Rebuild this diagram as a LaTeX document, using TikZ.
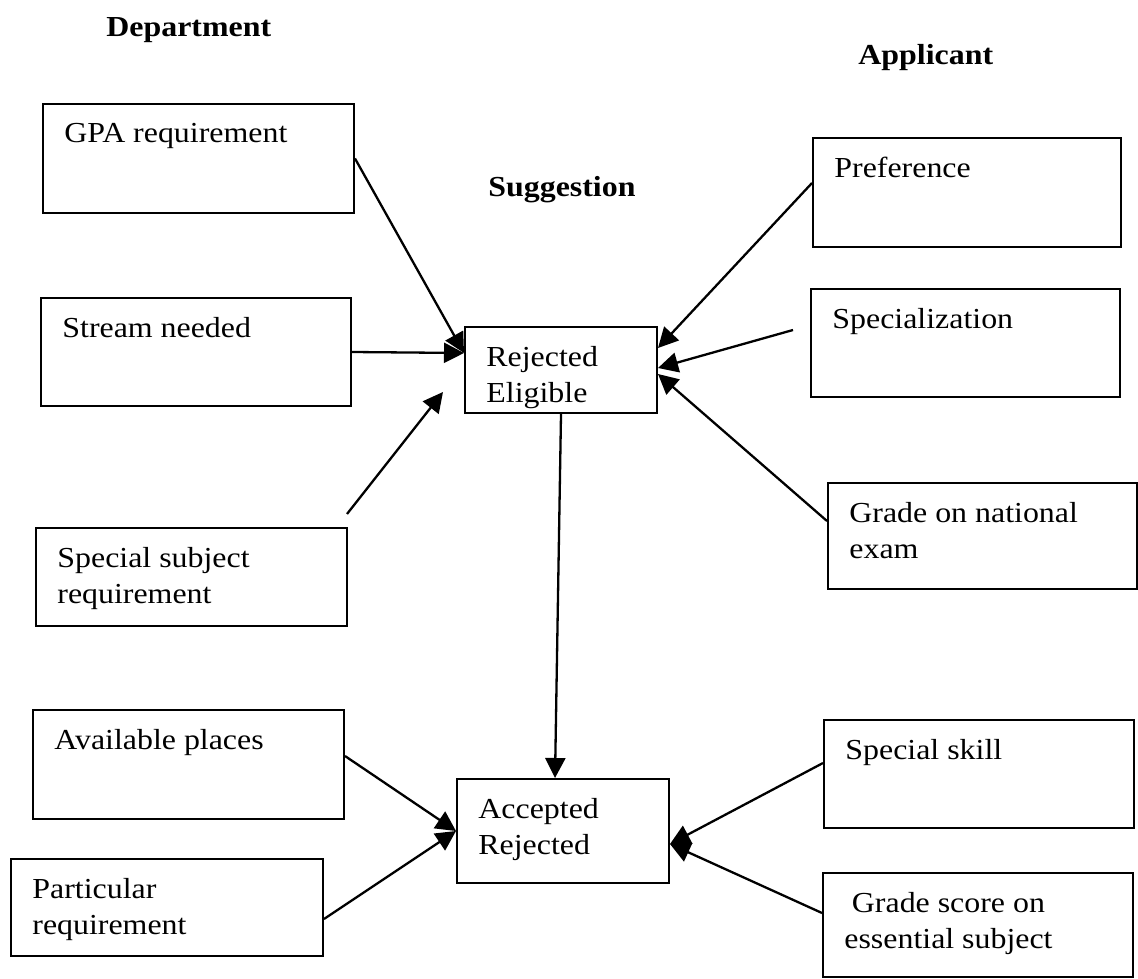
\documentclass[tikz,border=0pt]{standalone}
\usepackage{fontspec}
\setmainfont{Liberation Serif}[FakeStretch=1.1]
\usetikzlibrary{arrows.meta}

\tikzset{
  box/.style 2 args={draw, line width=1pt, anchor=north west, inner sep=0pt,
    minimum width=#1*0.5pt, minimum height=#2*0.5pt},
  txt/.style={anchor=north west, inner xsep=11pt, inner ysep=9.75pt, align=left,
    font=\fontsize{14.5}{18}\selectfont},
  head/.style={anchor=base west, inner sep=0pt,
    font=\fontsize{14.5}{18}\selectfont\bfseries},
  link/.style={line width=1.15pt, -{Triangle[length=10pt,width=10pt]}},
}

\begin{document}
\begin{tikzpicture}[x=0.5pt, y=-0.5pt]

    % 描画範囲
    \useasboundingbox (0,0) rectangle (1138,978);

    % 見出し
    \node[head] (dept) at (106,37) {Department};
    \node[head] (appl) at (858,65) {Applicant};
    \node[head] (sugg) at (488,197) {Suggestion};

    % 左側の箱
    \node[box={311}{109}] (gpa) at (42,103) {};
    \node[txt] (gpa-t) at (gpa.north west) {GPA requirement};
    \node[box={310}{108}] (stream) at (40,297) {};
    \node[txt] (stream-t) at (stream.north west) {Stream needed};
    \node[box={311}{98}] (subj) at (35,527) {};
    \node[txt] (subj-t) at (subj.north west) {Special subject\\requirement};
    \node[box={311}{109}] (avail) at (32,709) {};
    \node[txt] (avail-t) at (avail.north west) {Available places};
    \node[box={312}{97}] (partic) at (10,858) {};
    \node[txt] (partic-t) at (partic.north west) {Particular\\requirement};

    % 右側の箱
    \node[box={308}{109}] (pref) at (812,137) {};
    \node[txt] (pref-t) at (pref.north west) {Preference};
    \node[box={309}{108}] (spec) at (810,288) {};
    \node[txt] (spec-t) at (spec.north west) {Specialization};
    \node[box={309}{106}] (natexam) at (827,482) {};
    \node[txt] (natexam-t) at (natexam.north west) {Grade on national\\exam};
    \node[box={310}{108}] (skill) at (823,719) {};
    \node[txt] (skill-t) at (skill.north west) {Special skill};
    \node[box={310}{104}] (gscore) at (822,872) {};
    \node[txt, align=center] (gscore-t) at (gscore.north west) {Grade score on\\essential subject};

    % 中央の箱
    \node[box={192}{86}] (rej) at (464,326) {};
    \node[txt] (rej-t) at (rej.north west) {Rejected\\Eligible};
    \node[box={212}{104}] (acc) at (456,778) {};
    \node[txt] (acc-t) at (acc.north west) {Accepted\\Rejected};

    % 端点
    \coordinate (s0) at (347,514);
    \coordinate (s1) at (443,392);
    \coordinate (s2) at (793,330);

    % 矢印
    \draw[link] (gpa.east) -- ([yshift=8.5pt]rej.west);
    \draw[link] (stream.east) -- ([yshift=8.5pt]rej.west);
    \draw[link] (s0) -- (s1);
    \draw[link] ([yshift=4.75pt]pref.west) -- ([yshift=11pt]rej.east);
    \draw[link] (s2) -- ([yshift=1pt]rej.east);
    \draw[link] ([yshift=7.5pt]natexam.west) -- ([yshift=-2pt]rej.east);
    \draw[link] (rej.south) -- ([xshift=-4pt]acc.north);
    \draw[link] ([yshift=4.25pt]avail.east) -- (acc.west);
    \draw[link] ([yshift=-5.75pt]partic.east) -- (acc.west);
    \draw[link] ([yshift=5.5pt]skill.west) -- ([yshift=-6.5pt]acc.east);
    \draw[link] ([yshift=6pt]gscore.west) -- ([yshift=-6.5pt]acc.east);

\end{tikzpicture}
\end{document}
